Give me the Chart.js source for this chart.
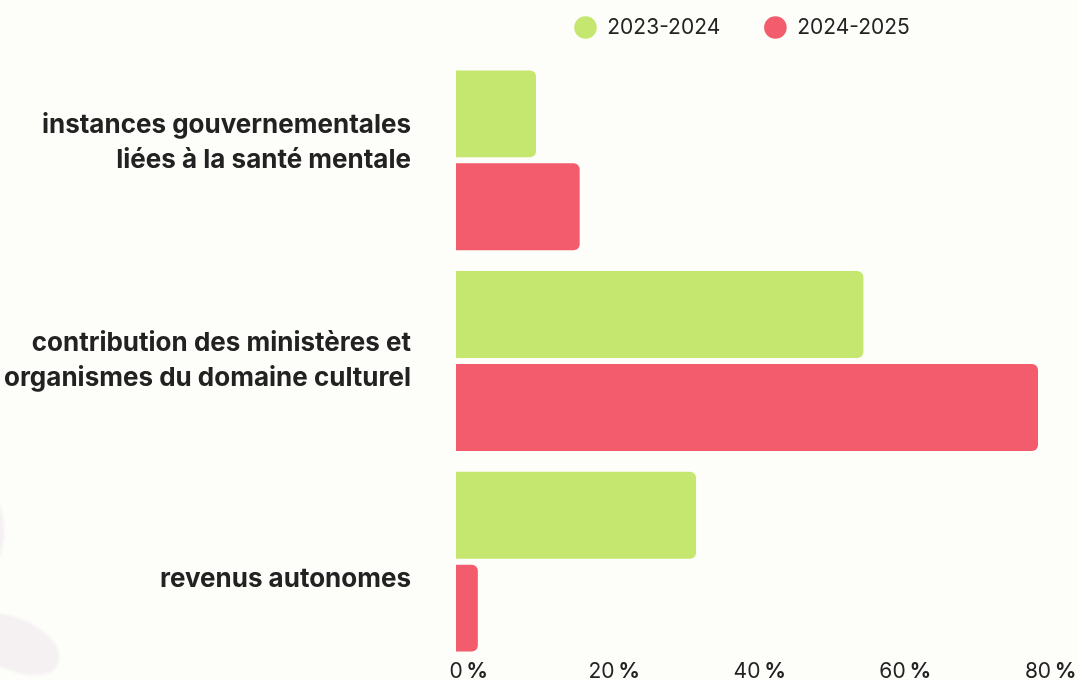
<!DOCTYPE html>
<html lang="fr">
<head>
<meta charset="utf-8">
<title>Sources de financement</title>
<script src="https://cdn.jsdelivr.net/npm/chart.js@4.4.1/dist/chart.umd.min.js"></script>
<style>
  html, body { margin: 0; padding: 0; background: #fdfdfa; }
  .wrap { position: relative; width: 1078px; height: 681px; overflow: hidden; }
  .blob { position: absolute; left: -34px; top: 618px; width: 96px; height: 52px;
          background: #f5f1f2; border-radius: 50% 60% 45% 40%; transform: rotate(20deg); filter: blur(1px); }
  .blob2 { position: absolute; left: -16px; top: 500px; width: 20px; height: 62px;
           background: #f5f1f2; border-radius: 50%; filter: blur(1px); }
  canvas { position: relative; }
</style>
</head>
<body>
<div class="wrap">
  <div class="blob"></div>
  <div class="blob2"></div>
  <canvas id="myChart" width="1078" height="681"></canvas>
</div>
<script>
const categories = [
    ["instances gouvernementales", "liées à la santé mentale", ""],
    ["contribution des ministères et", "organismes du domaine culturel"],
    ["", "revenus autonomes"]
];
const seriesNames = ["2023-2024", "2024-2025"];
const values2023 = [11, 56, 33];
const values2024 = [17, 80, 3];
const xTicks = [0, 20, 40, 60, 80];

const green = '#c5e76f';
const red = '#f25c6c';
const textColor = '#222222';

// legend needs a bit more room under it, and sits a little to the right
const legendSpace = {
    id: 'legendSpace',
    beforeInit(chart) {
        const fit = chart.legend.fit;
        chart.legend.fit = function () {
            fit.bind(chart.legend)();
            this.height = 60;
            if (this.lineWidths) this.lineWidths[0] -= 17;
        };
    }
};

// bold "%" after each x tick number
const percentSign = {
    id: 'percentSign',
    afterDraw(chart) {
        const scale = chart.scales.x;
        const ctx = chart.ctx;
        ctx.save();
        ctx.fillStyle = textColor;
        ctx.textBaseline = 'middle';
        ctx.textAlign = 'left';
        scale.ticks.forEach((tick, i) => {
            const x = scale.getPixelForTick(i);
            ctx.font = '400 21px Inter';
            const w = ctx.measureText(String(tick.label)).width;
            ctx.font = '700 21px Inter';
            ctx.fillText('%', x + w / 2 + 4, scale.top + 9.5);
        });
        ctx.restore();
    }
};

const ctx = document.getElementById('myChart');

new Chart(ctx, {
    type: 'bar',
    data: {
        labels: categories,
        datasets: [
            {
                label: seriesNames[0],
                data: values2023,
                backgroundColor: green
            },
            {
                label: seriesNames[1],
                data: values2024,
                backgroundColor: red
            }
        ]
    },
    options: {
        indexAxis: 'y',
        responsive: false,
        animation: false,
        devicePixelRatio: 1,
        categoryPercentage: 0.926,
        barPercentage: 0.935,
        borderRadius: 6,
        borderSkipped: 'start',
        layout: {
            padding: { top: 0, right: 40, bottom: 0, left: 0 }
        },
        plugins: {
            legend: {
                position: 'top',
                fullSize: false,
                align: 'center',
                labels: {
                    usePointStyle: true,
                    pointStyle: 'circle',
                    boxHeight: 16,
                    pointStyleWidth: 22.6,
                    padding: 17,
                    color: textColor,
                    font: { family: 'Inter', size: 21, weight: '400' },
                    generateLabels(chart) {
                        const items = Chart.defaults.plugins.legend.labels.generateLabels(chart);
                        // trailing space widens the gap between the two entries
                        items.forEach(item => { item.text = item.text + '\u2003 '; });
                        return items;
                    }
                }
            },
            tooltip: { enabled: false }
        },
        scales: {
            x: {
                min: 0,
                max: 80,
                afterBuildTicks(scale) {
                    scale.ticks = xTicks.map(v => ({ value: v }));
                },
                grid: { display: false, drawTicks: false },
                border: { display: false },
                ticks: {
                    padding: 0,
                    maxRotation: 0,
                    color: textColor,
                    font: { family: 'Inter', size: 21, weight: '400', lineHeight: 0.905 },
                    callback: function (value) {
                        return value;
                    }
                }
            },
            y: {
                afterFit(scale) {
                    scale.width = 456;
                    scale.paddingTop = 0;
                    scale.paddingBottom = 0;
                },
                grid: { display: false, drawTicks: false },
                border: { display: false },
                ticks: {
                    padding: 45,
                    color: textColor,
                    font: { family: 'Inter', size: 26, weight: '700', lineHeight: 1.35 }
                }
            }
        }
    },
    plugins: [legendSpace, percentSign]
});
</script>
</body>
</html>
